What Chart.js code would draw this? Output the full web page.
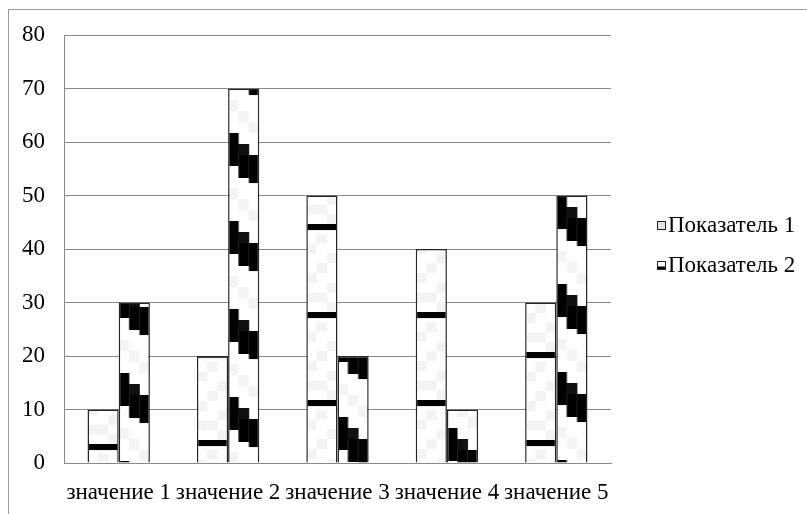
<!DOCTYPE html>
<html>
<head>
<meta charset="utf-8">
<script src="https://cdn.jsdelivr.net/npm/chart.js@4.4.1/dist/chart.umd.min.js"></script>
<style>
  html, body { margin: 0; padding: 0; background: #fff; overflow: hidden; }
  #frame { position: absolute; left: 8px; top: 9px; width: 900px; height: 600px; border: 1px solid #9c9c9c; }
  #wrap { position: absolute; left: 0; top: 0; width: 807px; height: 514px; }
</style>
</head>
<body>
<div id="frame"></div>
<div id="wrap"><canvas id="chart"></canvas></div>
<script>
// data
var categories = ["значение 1", "значение 2", "значение 3", "значение 4", "значение 5"];
var seriesNames = ["Показатель 1", "Показатель 2"];
var values1 = [10, 20, 50, 40, 30];
var values2 = [30, 70, 20, 10, 50];
var yTicks = [0, 10, 20, 30, 40, 50, 60, 70, 80];

// pattern phases (px above the zero line where the dark stripe starts), style only
var phase1 = [19, 23, 63, 63, 23];
var phase2 = [2, 66, 46, 35, 3];

var FONT = "'Liberation Serif', 'Times New Roman', serif";
var FSIZE = 23;
var catPct = 0.57;

// tile for series 1: faint noise + horizontal black band
function tile1() {
    var c = document.createElement("canvas");
    c.width = 31; c.height = 88;
    var g = c.getContext("2d");
    g.fillStyle = "#fff"; g.fillRect(0, 0, 31, 88);
    var light = [[1,1],[0,2],[2,3],[1,4],[0,5],[2,6],[1,7],[2,8],[0,7]];
    g.fillStyle = "#f3f3f3";
    light.forEach(function(p){ g.fillRect(p[0]*10.3, p[1]*9.8, 10.3, 9.8); });
    g.fillStyle = "#000";
    g.fillRect(0, 0, 31, 6);
    return c;
}

// tile for series 2: stepped diagonal black stripe
function tile2() {
    var c = document.createElement("canvas");
    c.width = 31; c.height = 88;
    var g = c.getContext("2d");
    g.fillStyle = "#fff"; g.fillRect(0, 0, 31, 88);
    g.fillStyle = "#f4f4f4";
    [[1,6],[2,7],[0,5],[1,8]].forEach(function(p){ g.fillRect(p[0]*10.3, p[1]*11, 10.3, 11); });
    g.fillStyle = "#000";
    g.fillRect(0, 0, 10.5, 33);
    g.fillRect(10.3, 11, 10.5, 34);
    g.fillRect(20.6, 22, 10.4, 28);
    g.fillStyle = "#111";
    g.fillRect(10.3, 11, 10.3, 11);
    return c;
}

var tiles = [tile1(), tile2()];
var phases = [phase1, phase2];
var plainFill = ["#e6e6e6", "#ffffff"];

function barFill(k) {
    return function(ctx) {
        var chart = ctx.chart;
        if (ctx.type !== "data" || !chart.chartArea || !chart.scales.x) return plainFill[k];
        var xs = chart.scales.x, ys = chart.scales.y;
        var catW = xs.width / categories.length;
        var group = catW * catPct;
        var barW = group / 2;
        var left = xs.getPixelForValue(ctx.dataIndex) - group / 2 + k * barW;
        var zero = ys.getPixelForValue(0);
        var pat = chart.ctx.createPattern(tiles[k], "repeat");
        pat.setTransform(new DOMMatrix().translate(left, zero - phases[k][ctx.dataIndex]).scale(barW / 31, 1));
        return pat;
    };
}

// legend drawn at the right like the original
var sideLegend = {
    id: "sideLegend",
    afterDraw: function(chart) {
        var g = chart.ctx, a = chart.chartArea;
        var x0 = a.right + 46;
        var mid = (a.top + a.bottom) / 2 - 4;
        g.save();
        g.font = FSIZE + "px " + FONT;
        g.textBaseline = "middle";
        chart.data.datasets.forEach(function(ds, i) {
            var y = mid + (i === 0 ? -20 : 20);
            g.fillStyle = i === 0 ? "#e4e4e4" : "#fff";
            g.fillRect(x0, y - 4, 8, 8);
            if (i === 1) { g.fillStyle = "#000"; g.fillRect(x0, y + 1.5, 8, 2.5); }
            g.strokeStyle = "#222"; g.lineWidth = 1;
            g.strokeRect(x0 + 0.5, y - 3.5, 8, 8);
            g.fillStyle = "#000";
            g.fillText(ds.label, x0 + 11, y + 1);
        });
        g.restore();
    }
};

var chart1 = new Chart(document.getElementById("chart"), {
    type: "bar",
    data: {
        labels: categories,
        datasets: [
            { label: seriesNames[0], data: values1, backgroundColor: barFill(0), borderColor: "#262626", borderWidth: 1.5 },
            { label: seriesNames[1], data: values2, backgroundColor: barFill(1), borderColor: "#262626", borderWidth: 1.5 }
        ]
    },
    options: {
        responsive: true,
        maintainAspectRatio: false,
        animation: false,
        layout: { padding: { left: 0, top: 35, right: 196, bottom: 0 } },
        datasets: { bar: { categoryPercentage: catPct, barPercentage: 1 } },
        plugins: { legend: { display: false }, tooltip: { enabled: false } },
        scales: {
            x: {
                afterFit: function(axis) { axis.height = 51; },
                grid: { display: false, drawTicks: false },
                border: { display: true, color: "#8a8a8a", width: 1 },
                ticks: { color: "#000", font: { family: FONT, size: FSIZE }, padding: 16, maxRotation: 0, minRotation: 0, autoSkip: false }
            },
            y: {
                min: 0,
                max: 80,
                afterFit: function(axis) { axis.width = 64; },
                afterBuildTicks: function(axis) { axis.ticks = yTicks.map(function(v){ return { value: v }; }); },
                grid: { color: "#8a8a8a", lineWidth: 1, drawTicks: false },
                border: { display: true, color: "#8a8a8a", width: 1 },
                ticks: { color: "#000", font: { family: FONT, size: FSIZE }, padding: 19 }
            }
        }
    },
    plugins: [sideLegend]
});
</script>
</body>
</html>
